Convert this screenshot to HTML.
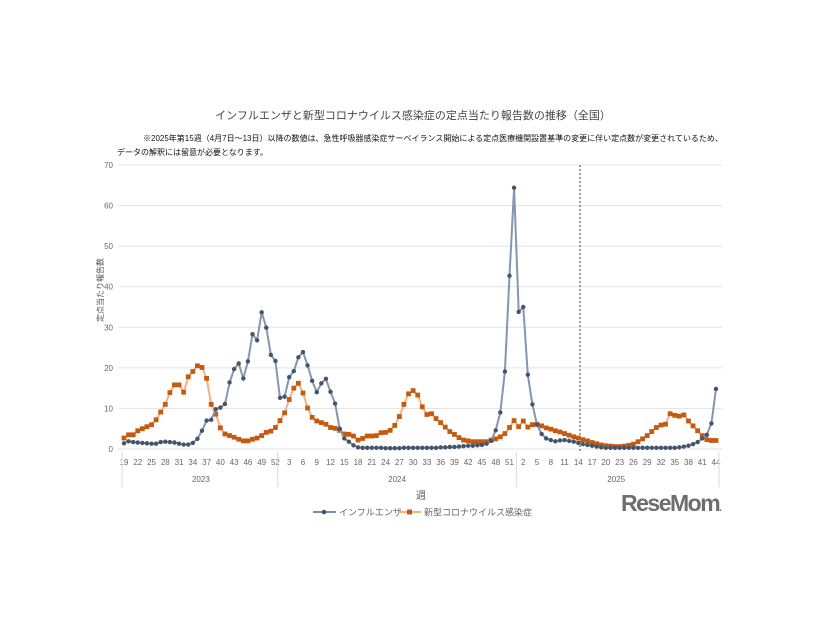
<!DOCTYPE html>
<html><head><meta charset="utf-8">
<style>
html,body{margin:0;padding:0;background:#fff;}
svg{display:block;font-family:"Liberation Sans","Noto Sans CJK JP",sans-serif;}
</style></head>
<body>
<svg id="c" width="826" height="620" viewBox="0 0 826 620" xmlns="http://www.w3.org/2000/svg">
<text x="413" y="119" font-size="11" fill="#444" text-anchor="middle">インフルエンザと新型コロナウイルス感染症の定点当たり報告数の推移（全国）</text>
<text x="143" y="141" font-size="8" fill="#111">※2025年第15週（4月7日～13日）以降の数値は、急性呼吸器感染症サーベイランス開始による定点医療機関設置基準の変更に伴い定点数が変更されているため、</text>
<text x="117" y="155" font-size="8" fill="#111">データの解釈には留意が必要となります。</text>
<g id="grid"></g>
<g id="lines"></g>
<text transform="translate(103,290) rotate(-90)" font-size="8" fill="#555" text-anchor="middle">定点当たり報告数</text>
<text x="421" y="499" font-size="10" fill="#555" text-anchor="middle">週</text>
<line x1="313" y1="512" x2="336" y2="512" stroke="#7f8ea6" stroke-width="2"/><circle cx="324" cy="512" r="2.3" fill="#44546a"/>
<text x="339" y="515.5" font-size="9" fill="#666">インフルエンザ</text>
<line x1="398" y1="512" x2="421" y2="512" stroke="#f4b183" stroke-width="2"/><rect x="407" y="509.5" width="5" height="5" fill="#c55a11"/>
<text x="424" y="515.5" font-size="9" fill="#666">新型コロナウイルス感染症</text>
<text x="621" y="511" font-size="23" font-weight="bold" fill="#6e6e6e" letter-spacing="-1.5">ReseMom<tspan font-size="10">.</tspan></text>
</svg>
<script>
var flu=[1.4,1.9,1.7,1.6,1.5,1.4,1.3,1.3,1.7,1.8,1.7,1.6,1.3,1.1,1.1,1.5,2.5,4.5,7.0,7.2,9.8,10.2,11.1,16.4,19.7,21.1,17.4,21.6,28.3,26.8,33.7,29.9,23.2,21.7,
12.6,12.9,17.7,19.2,22.6,23.9,20.6,16.8,14.0,16.2,17.3,14.1,11.2,5.0,2.6,1.8,0.9,0.4,0.3,0.3,0.3,0.3,0.3,0.2,0.2,0.2,0.2,0.3,0.3,0.3,0.3,0.3,0.3,0.3,0.3,0.4,0.4,0.5,0.5,0.6,0.7,0.8,0.8,0.9,1.0,1.3,2.0,4.6,9.0,19.1,42.7,64.4,
33.8,35.0,18.3,11.0,6.0,3.7,2.6,2.2,1.9,2.1,2.2,2.0,1.8,1.5,1.2,1.0,0.8,0.6,0.4,0.3,0.3,0.3,0.3,0.3,0.3,0.3,0.3,0.3,0.3,0.3,0.3,0.3,0.3,0.3,0.3,0.4,0.6,0.8,1.2,1.7,2.6,3.5,6.3,14.8];
var cov=[2.7,3.5,3.5,4.5,5.0,5.5,6.0,7.2,9.1,11.0,13.9,15.8,15.8,14.0,17.8,19.1,20.5,20.1,17.4,11.0,8.6,5.2,3.7,3.3,2.9,2.4,2.0,2.0,2.4,2.7,3.3,4.1,4.4,5.3,
7.0,8.9,12.2,15.0,16.2,13.8,10.1,7.8,6.9,6.5,6.1,5.3,5.1,4.6,3.7,3.6,3.2,2.2,2.6,3.2,3.2,3.3,4.0,4.1,4.6,5.8,8.0,11.0,13.6,14.4,13.3,10.4,8.5,8.7,7.5,6.5,5.4,4.3,3.6,2.8,2.2,2.0,1.8,1.8,1.8,1.8,2.2,2.5,3.0,3.8,5.3,7.0,
5.5,6.9,5.4,6.0,6.1,5.7,5.2,4.9,4.5,4.2,3.8,3.4,3.0,2.7,2.3,2.0,1.6,1.3,1.0,0.8,0.7,0.6,0.6,0.7,0.9,1.2,1.8,2.5,3.3,4.3,5.3,5.9,6.1,8.7,8.3,8.1,8.4,6.9,5.7,4.5,3.3,2.3,2.1,2.1];
var X0=124,DX=592/129,Y0=449,SY=284/70;
function X(i){return X0+i*DX} function Y(v){return Y0-v*SY}
var g='';
for(var k=0;k<=7;k++){var y=Y(k*10);g+='<line x1="118" x2="722" y1="'+y+'" y2="'+y+'" stroke="#e3e3e3" stroke-width="1"/>';
g+='<text x="113" y="'+(y+3)+'" font-size="8" fill="#666" text-anchor="end">'+(k*10)+'</text>';}
var wk=[];for(var w=19;w<=52;w++)wk.push(w);for(w=1;w<=52;w++)wk.push(w);for(w=1;w<=44;w++)wk.push(w);
for(var i=0;i<130;i+=3){g+='<text x="'+X(i)+'" y="465" font-size="8" fill="#666" text-anchor="middle">'+wk[i]+'</text>';}
[X0-2,X(33.5),X(85.5),X(129)+3].forEach(function(x){g+='<line x1="'+x+'" x2="'+x+'" y1="452" y2="487" stroke="#d9d9d9"/>';});
g+='<text x="'+((X0+X(33.5))/2)+'" y="482" font-size="8" fill="#666" text-anchor="middle">2023</text>';
g+='<text x="'+((X(33.5)+X(85.5))/2)+'" y="482" font-size="8" fill="#666" text-anchor="middle">2024</text>';
g+='<text x="'+((X(85.5)+X(129))/2)+'" y="482" font-size="8" fill="#666" text-anchor="middle">2025</text>';
g+='<line x1="580" x2="580" y1="165" y2="452" stroke="#444" stroke-width="1" stroke-dasharray="2,2"/>';
document.getElementById('grid').innerHTML=g;
var pc='',pf='';cov.forEach(function(v,i){pc+=(i?'L':'M')+X(i).toFixed(1)+','+Y(v).toFixed(1);});
flu.forEach(function(v,i){pf+=(i?'L':'M')+X(i).toFixed(1)+','+Y(v).toFixed(1);});
var s='<path d="'+pc+'" fill="none" stroke="#f4b183" stroke-width="2"/>';
cov.forEach(function(v,i){s+='<rect x="'+(X(i)-2.4)+'" y="'+(Y(v)-2.4)+'" width="4.8" height="4.8" fill="#c55a11"/>';});
s+='<path d="'+pf+'" fill="none" stroke="#8496b0" stroke-width="2"/>';
flu.forEach(function(v,i){s+='<circle cx="'+X(i)+'" cy="'+Y(v)+'" r="2.2" fill="#44546a"/>';});
document.getElementById('lines').innerHTML=s;
</script>
</body></html>
